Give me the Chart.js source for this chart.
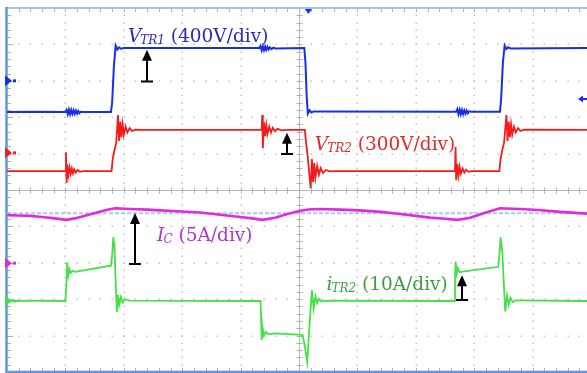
<!DOCTYPE html>
<html>
<head>
<meta charset="utf-8">
<script src="https://cdn.jsdelivr.net/npm/chart.js@4/dist/chart.umd.min.js"></script>
<style>
  html, body { margin: 0; padding: 0; background: #fff; overflow: hidden; }
  canvas { display: block; }
</style>
</head>
<body>
<canvas id="scope" width="587" height="373"></canvas>
<script>
// Screen coordinates in scope divisions: time runs 0..X_MAX, amplitude 0..10.
const X_MAX = 9.93;
const Y_DIVS = 10;

// Transformer primary voltage V_TR1 (400 V/div)
const vTR1 = [
  [0,7.14],[0.5,7.15],[1.00,7.14],
  [1.02,7.20],[1.04,7.08],[1.06,7.21],[1.08,7.08],[1.10,7.20],[1.12,7.09],[1.14,7.19],[1.16,7.09],
  [1.18,7.18],[1.20,7.10],[1.22,7.17],[1.24,7.11],[1.26,7.15],[1.30,7.14],
  [1.78,7.14],[1.80,7.40],[1.83,8.40],[1.86,8.97],[1.89,8.86],[1.92,8.92],[1.95,8.88],[2.00,8.90],
  [4.32,8.90],[4.34,8.96],[4.36,8.84],[4.38,8.95],[4.40,8.84],[4.42,8.94],[4.44,8.85],[4.46,8.93],
  [4.48,8.86],[4.50,8.92],[4.53,8.87],[4.56,8.91],[4.60,8.89],
  [5.09,8.90],[5.11,8.50],[5.13,7.60],[5.15,7.10],[5.18,7.19],[5.21,7.13],[5.25,7.16],
  [7.69,7.15],[7.71,7.22],[7.73,7.08],[7.75,7.21],[7.77,7.08],[7.79,7.20],[7.81,7.09],[7.83,7.19],
  [7.85,7.10],[7.87,7.18],[7.89,7.11],[7.91,7.16],[7.95,7.15],
  [8.44,7.15],[8.46,7.50],[8.49,8.50],[8.52,8.97],[8.55,8.87],[8.58,8.92],[8.62,8.89],[9.93,8.90]
];

// Transformer secondary voltage V_TR2 (300 V/div)
const vTR2 = [
  [0,5.52],[1.00,5.52],
  [1.01,6.04],[1.02,5.19],[1.03,5.70],[1.05,5.40],[1.07,5.62],[1.09,5.44],[1.11,5.59],[1.13,5.46],
  [1.15,5.57],[1.18,5.48],[1.21,5.55],[1.25,5.50],[1.30,5.52],
  [1.79,5.52],[1.81,5.85],[1.84,6.10],[1.87,6.30],[1.90,7.06],[1.92,6.35],[1.94,6.88],[1.96,6.45],
  [1.98,6.80],[2.00,6.52],[2.03,6.74],[2.06,6.58],[2.10,6.70],[2.14,6.62],[2.20,6.66],[2.30,6.65],
  [4.36,6.65],[4.37,7.06],[4.38,6.15],[4.40,6.86],[4.42,6.48],[4.44,6.78],[4.46,6.54],[4.49,6.74],
  [4.52,6.58],[4.55,6.71],[4.59,6.61],[4.63,6.68],[4.70,6.64],[4.80,6.65],
  [5.10,6.65],[5.12,6.30],[5.15,5.90],[5.18,5.35],[5.20,5.05],[5.22,5.85],[5.24,5.22],[5.26,5.74],
  [5.28,5.34],[5.31,5.66],[5.34,5.42],[5.37,5.60],[5.41,5.47],[5.46,5.55],[5.52,5.51],[5.60,5.52],
  [7.67,5.52],[7.68,6.19],[7.69,5.27],[7.71,5.72],[7.73,5.40],[7.75,5.63],[7.77,5.45],[7.80,5.59],
  [7.83,5.48],[7.86,5.56],[7.90,5.50],[7.95,5.52],
  [8.43,5.52],[8.45,5.85],[8.48,6.10],[8.51,6.30],[8.55,7.06],[8.57,6.35],[8.59,6.88],[8.61,6.45],
  [8.63,6.80],[8.65,6.52],[8.68,6.74],[8.71,6.58],[8.75,6.70],[8.79,6.62],[8.85,6.66],[9.93,6.65]
];

// Capacitor current I_C (5 A/div)
const iC = [
  [0,4.31],[0.20,4.30],[0.39,4.29],[0.60,4.26],[0.82,4.22],[1.01,4.18],[1.16,4.22],[1.35,4.30],
  [1.51,4.37],[1.70,4.45],[1.85,4.50],[2.11,4.48],[2.40,4.46],[2.62,4.44],[3.00,4.41],[3.30,4.38],
  [3.65,4.32],[3.99,4.26],[4.20,4.22],[4.37,4.18],[4.59,4.24],[4.80,4.34],[5.02,4.43],[5.20,4.47],
  [5.36,4.48],[5.70,4.46],[6.04,4.44],[6.40,4.40],[6.73,4.34],[7.00,4.29],[7.24,4.24],[7.50,4.21],
  [7.71,4.18],[7.93,4.24],[8.20,4.38],[8.44,4.50],[8.78,4.48],[9.10,4.45],[9.47,4.40],[9.93,4.35]
];

// Reference level of the I_C channel
const iCRef = [[0,4.36],[9.93,4.36]];

// Transformer secondary current i_TR2 (10 A/div)
const iTR2 = [
  [0,1.95],[0.5,1.96],[1.00,1.95],
  [1.02,2.50],[1.03,3.01],[1.05,2.66],[1.07,2.82],[1.09,2.72],[1.12,2.78],[1.16,2.75],
  [1.78,2.92],[1.80,3.20],[1.82,3.70],[1.84,3.45],[1.86,2.50],[1.88,1.64],[1.90,2.12],[1.92,1.84],
  [1.95,2.06],[1.98,1.91],[2.02,2.00],[2.10,1.96],
  [4.34,1.95],[4.35,1.50],[4.36,0.88],[4.38,1.18],[4.40,1.00],[4.43,1.10],[4.47,1.04],[4.60,1.06],
  [5.06,1.02],[5.10,0.70],[5.14,0.28],[5.18,1.30],[5.22,2.25],[5.25,1.75],[5.28,2.08],[5.31,1.89],
  [5.34,2.01],[5.38,1.94],[5.45,1.96],
  [7.66,1.95],[7.67,2.60],[7.68,3.03],[7.70,2.70],[7.72,2.85],[7.75,2.74],[7.80,2.76],
  [8.41,2.89],[8.43,3.20],[8.45,3.70],[8.48,3.30],[8.51,2.30],[8.53,1.66],[8.56,2.10],[8.59,1.84],
  [8.62,2.04],[8.66,1.92],[8.72,1.97],[9.93,1.95]
];

// Channel ground markers on the left edge (division level per channel)
const channelLevels = { vTR1: 8.0, vTR2: 6.02, iC: 2.99, iTR2: 1.95 };

const COLORS = {
  vTR1: '#1530e6', vTR2: '#f21c1c', iC: '#e02ae0', iTR2: '#45e045', ref: '#a9c8f2'
};

// Annotation labels: main letter, subscript, scale text
const notes = [
  { main: 'V', sub: 'TR1', rest: ' (400V/div)', t: 2.07, v: 9.07, color: '#2a2ac0' },
  { main: 'V', sub: 'TR2', rest: ' (300V/div)', t: 5.27, v: 6.10, color: '#e32a24' },
  { main: 'I', sub: 'C',   rest: ' (5A/div)',   t: 2.57, v: 3.60, color: '#b035cf' },
  { main: 'i', sub: 'TR2', rest: ' (10A/div)',  t: 5.47, v: 2.24, color: '#3f9c3f' }
];

// Pointer arrows: x position, head level, tail level
const arrows = [
  { t: 2.39, top: 8.85, bottom: 7.98 },
  { t: 4.79, top: 6.57, bottom: 5.99 },
  { t: 2.19, top: 4.37, bottom: 2.97 },
  { t: 7.79, top: 2.66, bottom: 1.98 }
];

const toXY = arr => arr.map(([x, y]) => ({ x, y }));

// Graticule: dotted divisions, centre cross with minor ticks, blue frame
const graticule = {
  id: 'graticule',
  beforeDatasetsDraw(chart) {
    const { ctx, chartArea: a } = chart;
    const xs = chart.scales.x, ys = chart.scales.y;
    const X = v => xs.getPixelForValue(v), Y = v => ys.getPixelForValue(v);
    ctx.save();
    ctx.fillStyle = '#c3c3c3';
    for (let i = 1; i <= Math.floor(X_MAX); i++) {
      if (i === 5) continue;
      const px = Math.round(X(i));
      for (let k = 1; k < Y_DIVS * 5; k++) ctx.fillRect(px - 0.5, Math.round(Y(k * 0.2)) - 0.5, 1.5, 1.5);
    }
    for (let j = 1; j < Y_DIVS; j++) {
      if (j === 5) continue;
      const py = Math.round(Y(j));
      for (let k = 1; k * 0.2 <= X_MAX; k++) ctx.fillRect(Math.round(X(k * 0.2)) - 0.5, py - 0.5, 1.5, 1.5);
    }
    // centre cross
    ctx.strokeStyle = '#b3bac8';
    ctx.lineWidth = 1;
    const cx = Math.round(X(5)) + 0.5, cy = Math.round(Y(5)) + 0.5;
    ctx.beginPath();
    ctx.moveTo(a.left, cy); ctx.lineTo(a.right, cy);
    ctx.moveTo(cx, a.top); ctx.lineTo(cx, a.bottom);
    ctx.stroke();
    // minor ticks
    ctx.strokeStyle = '#a9afbb';
    ctx.beginPath();
    for (let k = 1; k * 0.2 <= X_MAX; k++) {
      const px = Math.round(X(k * 0.2)) + 0.5;
      ctx.moveTo(px, cy - 3); ctx.lineTo(px, cy + 3);
      ctx.moveTo(px, a.top); ctx.lineTo(px, a.top + 4);
      ctx.moveTo(px, a.bottom); ctx.lineTo(px, a.bottom - 4);
    }
    for (let k = 1; k < Y_DIVS * 5; k++) {
      const py = Math.round(Y(k * 0.2)) + 0.5;
      const len = (k % 5 === 0) ? 6 : 4;
      ctx.moveTo(cx - 3, py); ctx.lineTo(cx + 3, py);
      ctx.moveTo(a.left, py); ctx.lineTo(a.left + len, py);
    }
    ctx.stroke();
    // frame
    ctx.strokeStyle = '#a4c4ec';
    ctx.lineWidth = 2;
    ctx.beginPath(); ctx.moveTo(a.left, a.top); ctx.lineTo(a.right, a.top); ctx.stroke();
    ctx.strokeStyle = '#5f98dc';
    ctx.lineWidth = 2.5;
    ctx.beginPath();
    ctx.moveTo(a.left - 0.5, a.top - 1); ctx.lineTo(a.left - 0.5, a.bottom);
    ctx.lineTo(a.right, a.bottom);
    ctx.stroke();
    ctx.restore();
  },
  afterDatasetsDraw(chart) {
    const { ctx, chartArea: a } = chart;
    const xs = chart.scales.x, ys = chart.scales.y;
    const X = v => xs.getPixelForValue(v), Y = v => ys.getPixelForValue(v);
    ctx.save();
    // channel markers
    Object.keys(channelLevels).forEach(key => {
      const py = Y(channelLevels[key]);
      ctx.fillStyle = COLORS[key];
      ctx.beginPath();
      ctx.moveTo(a.left - 2, py - 5.5);
      ctx.lineTo(a.left + 5, py);
      ctx.lineTo(a.left - 2, py + 5.5);
      ctx.closePath();
      ctx.fill();
      ctx.fillRect(a.left + 6, py - 1.5, 3, 3);
    });
    // trigger level marker (right) and trigger position marker (top)
    ctx.fillStyle = COLORS.vTR1;
    const ry = Y(7.5);
    ctx.beginPath();
    ctx.moveTo(a.right - 9, ry); ctx.lineTo(a.right - 4, ry - 3.5); ctx.lineTo(a.right - 4, ry + 3.5);
    ctx.closePath(); ctx.fill();
    ctx.fillRect(a.right - 5, ry - 1, 5, 2);
    const tx = X(5.16);
    ctx.beginPath();
    ctx.moveTo(tx - 3.5, a.top + 1); ctx.lineTo(tx + 3.5, a.top + 1); ctx.lineTo(tx, a.top + 6);
    ctx.closePath(); ctx.fill();
    // arrows
    ctx.strokeStyle = '#000'; ctx.fillStyle = '#000'; ctx.lineWidth = 2;
    arrows.forEach(ar => {
      const px = Math.round(X(ar.t)), yt = Y(ar.top), yb = Y(ar.bottom);
      ctx.beginPath();
      ctx.moveTo(px, yt + 8); ctx.lineTo(px, yb);
      ctx.moveTo(px - 6, yb); ctx.lineTo(px + 6, yb);
      ctx.stroke();
      ctx.beginPath();
      ctx.moveTo(px, yt); ctx.lineTo(px + 5, yt + 11); ctx.lineTo(px - 5, yt + 11);
      ctx.closePath(); ctx.fill();
    });
    // labels
    ctx.textBaseline = 'alphabetic';
    notes.forEach(n => {
      let px = X(n.t);
      const py = Y(n.v);
      ctx.fillStyle = n.color;
      ctx.font = 'italic 18.5px "DejaVu Serif"';
      ctx.fillText(n.main, px, py);
      px += ctx.measureText(n.main).width - 1;
      ctx.font = 'italic 12px "DejaVu Serif"';
      ctx.fillText(n.sub, px, py + 2);
      px += ctx.measureText(n.sub).width;
      ctx.font = '18.5px "DejaVu Serif"';
      ctx.fillText(n.rest, px, py);
    });
    ctx.restore();
  }
};

new Chart(document.getElementById('scope'), {
  type: 'line',
  data: {
    datasets: [
      { label: 'I_C', data: toXY(iC), borderColor: COLORS.iC, borderWidth: 2.6 },
      { label: 'I_C ref', data: toXY(iCRef), borderColor: COLORS.ref, borderWidth: 2, borderDash: [4, 2] },
      { label: 'i_TR2', data: toXY(iTR2), borderColor: COLORS.iTR2, borderWidth: 1.8 },
      { label: 'V_TR2', data: toXY(vTR2), borderColor: COLORS.vTR2, borderWidth: 1.8 },
      { label: 'V_TR1', data: toXY(vTR1), borderColor: COLORS.vTR1, borderWidth: 2 }
    ]
  },
  options: {
    responsive: false,
    animation: false,
    parsing: true,
    layout: { padding: { left: 7, top: 8, right: 0, bottom: 1 } },
    elements: { point: { radius: 0 }, line: { tension: 0, fill: false } },
    scales: {
      x: { type: 'linear', min: 0, max: X_MAX, display: false },
      y: { type: 'linear', min: 0, max: Y_DIVS, display: false }
    },
    plugins: { legend: { display: false }, tooltip: { enabled: false } }
  },
  plugins: [graticule]
});
</script>
</body>
</html>
